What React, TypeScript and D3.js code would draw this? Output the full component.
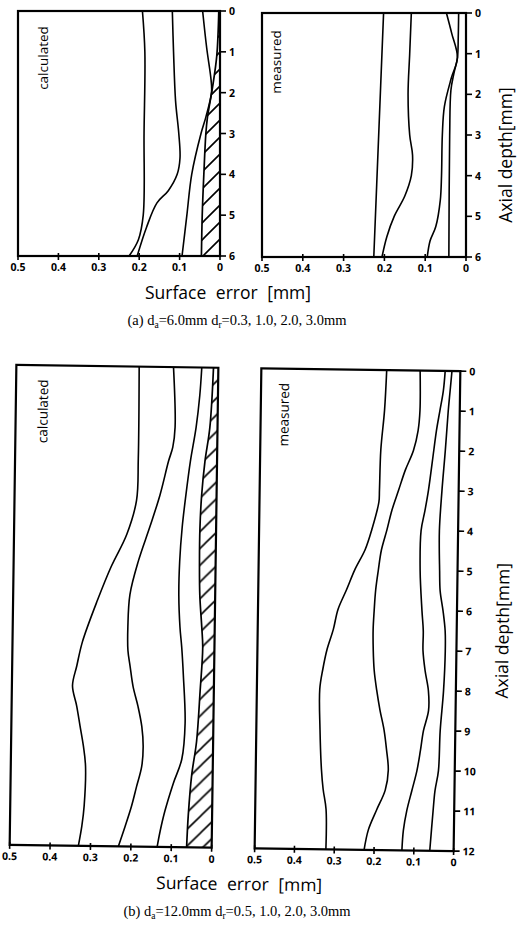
import React from 'react';
import * as d3 from 'd3';

type Pt = [number, number]; // [axial depth mm, surface error mm]

// tick labels
const errorTicks = [0.5, 0.4, 0.3, 0.2, 0.1, 0];
const errorTickLabels = ['0.5', '0.4', '0.3', '0.2', '0.1', '0'];
const depthTicksA = [0, 1, 2, 3, 4, 5, 6];
const depthTicksB = [0, 1, 2, 3, 4, 5, 6, 7, 8, 9, 10, 11, 12];

// (a) da = 6.0 mm — calculated
const calcA_c1: Pt[] = [[0, 0.192], [1, 0.186], [3, 0.188], [5, 0.19], [5.6, 0.202], [6, 0.225]];
const calcA_c2: Pt[] = [[0, 0.118], [1, 0.115], [2.2, 0.11], [3, 0.102], [3.6, 0.099], [4, 0.106], [4.4, 0.128], [4.7, 0.156], [5.3, 0.182], [6, 0.205]];
const calcA_c3: Pt[] = [[0, 0.043], [0.9, 0.033], [1.7, 0.022], [2.0, 0.021], [2.6, 0.035], [3, 0.047], [4, 0.07], [5, 0.082], [6, 0.094]];
const calcA_hatch: Pt[] = [[0, 0.003], [1.1, 0.008], [1.9, 0.019], [2.6, 0.031], [3, 0.035], [4, 0.04], [5, 0.044], [6, 0.046]];

// (a) da = 6.0 mm — measured
const measA_c1: Pt[] = [[0, 0.202], [3, 0.214], [6, 0.226]];
const measA_c2: Pt[] = [[0, 0.134], [1, 0.138], [2, 0.142], [3, 0.138], [3.5, 0.131], [4, 0.134], [4.5, 0.15], [5, 0.176], [5.5, 0.194], [6, 0.206]];
const measA_c3: Pt[] = [[0, 0.048], [0.5, 0.035], [1.1, 0.021], [1.6, 0.036], [2.3, 0.053], [3, 0.058], [4, 0.06], [4.6, 0.063], [5.25, 0.074], [5.6, 0.088], [6, 0.095]];
const measA_c4: Pt[] = [[0, 0.018], [0.6, 0.019], [1.1, 0.021], [1.5, 0.03], [1.9, 0.037], [3, 0.04], [6, 0.042]];

// (b) da = 12.0 mm — calculated
const calcB_c1: Pt[] = [[0, 0.196], [2.3, 0.195], [3.35, 0.198], [4.2, 0.221], [5, 0.258], [5.85, 0.291], [6.9, 0.327], [7.5, 0.34], [8, 0.35], [8.5, 0.339], [9, 0.33], [9.5, 0.321], [10, 0.315], [11, 0.317], [11.5, 0.322], [12, 0.33]];
const calcB_c2: Pt[] = [[0, 0.111], [1.5, 0.105], [2, 0.11], [2.35, 0.12], [3.2, 0.14], [4, 0.164], [4.85, 0.191], [5.7, 0.211], [6.5, 0.215], [7.1, 0.214], [7.5, 0.208], [8, 0.2], [8.5, 0.187], [9, 0.177], [9.5, 0.173], [10, 0.176], [10.5, 0.188], [11, 0.2], [11.5, 0.215], [12, 0.231]];
const calcB_c3: Pt[] = [[0, 0.041], [0.7, 0.045], [1.5, 0.053], [2.35, 0.066], [3.2, 0.076], [4, 0.084], [4.85, 0.089], [5.7, 0.09], [6.5, 0.086], [7, 0.081], [7.7, 0.076], [8.9, 0.07], [9.8, 0.077], [10.4, 0.097], [11.1, 0.117], [11.6, 0.128], [12, 0.135]];
const calcB_hatch: Pt[] = [[0, 0.012], [1.5, 0.019], [2.35, 0.03], [3.2, 0.037], [4, 0.04], [4.85, 0.04], [5.7, 0.038], [6.5, 0.032], [7, 0.029], [8.1, 0.034], [9.35, 0.041], [10.2, 0.052], [11.2, 0.059], [12, 0.062]];

// (b) da = 12.0 mm — measured
const measB_c1: Pt[] = [[0, 0.185], [1, 0.189], [2, 0.197], [3, 0.199], [3.3, 0.2], [4, 0.217], [4.5, 0.233], [5, 0.258], [5.5, 0.278], [6, 0.299], [6.5, 0.31], [7, 0.325], [7.5, 0.335], [8, 0.342], [9, 0.34], [10, 0.335], [10.5, 0.33], [11, 0.322], [12, 0.321]];
const measB_c2: Pt[] = [[0, 0.101], [1, 0.1], [1.5, 0.104], [2, 0.115], [2.5, 0.135], [3, 0.151], [3.5, 0.167], [4, 0.179], [4.5, 0.192], [5, 0.199], [5.5, 0.205], [6, 0.208], [6.5, 0.21], [7, 0.209], [7.5, 0.206], [8, 0.199], [8.5, 0.19], [9, 0.179], [9.5, 0.172], [10, 0.167], [10.5, 0.174], [11, 0.195], [11.5, 0.215], [12, 0.225]];
const measB_c3: Pt[] = [[0, 0.038], [0.5, 0.042], [1, 0.05], [1.5, 0.058], [2, 0.064], [3, 0.076], [3.5, 0.084], [4, 0.093], [5, 0.094], [6, 0.088], [6.5, 0.084], [7, 0.084], [7.5, 0.078], [8, 0.069], [8.5, 0.068], [9, 0.08], [9.5, 0.087], [10, 0.095], [10.5, 0.107], [11, 0.119], [11.5, 0.127], [12, 0.13]];
const measB_c4: Pt[] = [[0, 0.021], [0.5, 0.025], [1, 0.029], [2, 0.035], [3, 0.042], [4, 0.047], [5, 0.045], [5.5, 0.043], [6, 0.035], [6.5, 0.029], [7, 0.028], [8, 0.031], [9, 0.038], [10, 0.041], [10.5, 0.049], [11, 0.053], [12, 0.06]];

const SANS = "'Open Sans', 'DejaVu Sans', sans-serif";
const SERIF = "'Liberation Serif', 'Times New Roman', serif";

interface PanelProps {
  x0: number; x1: number; y0: number; y1: number;
  maxDepth: number;
  curves: Pt[][];
  hatch?: Pt[];
  label: string;
  labelX: number; labelY: number;
  depthTicks: number[];
  showDepthTicks: boolean;
  showDepthLabels: boolean;
}

function Panel(p: PanelProps) {
  const xs = d3.scaleLinear().domain([0.5, 0]).range([p.x0, p.x1]);
  const ys = d3.scaleLinear().domain([0, p.maxDepth]).range([p.y0, p.y1]);
  const curve = d3.curveCatmullRom.alpha(0.5);
  const line = d3.line<Pt>().x(d => xs(d[1])).y(d => ys(d[0])).curve(curve);
  const area = p.hatch
    ? d3.area<Pt>().y(d => ys(d[0])).x0(d => xs(d[1])).x1(() => xs(0)).curve(curve)(p.hatch)
    : null;
  return (
    <g>
      {area && <path d={area} fill="url(#hatch)" stroke="none" />}
      {p.hatch && <path d={line(p.hatch) || ''} fill="none" stroke="#000" strokeWidth={1.7} />}
      {p.curves.map((c, i) => (
        <path key={i} d={line(c) || ''} fill="none" stroke="#000" strokeWidth={1.6} />
      ))}
      <rect x={p.x0} y={p.y0} width={p.x1 - p.x0} height={p.y1 - p.y0} fill="none" stroke="#000" strokeWidth={2.2} />
      {errorTicks.map((t, i) => (
        <g key={'x' + i}>
          <line x1={xs(t)} x2={xs(t)} y1={p.y1 - 3} y2={p.y1 + 4} stroke="#000" strokeWidth={1.6} />
          <text x={xs(t)} y={p.y1 + 15} textAnchor="middle" fontFamily={SANS} fontWeight={700} fontSize={10.5}>
            {errorTickLabels[i]}
          </text>
        </g>
      ))}
      {p.showDepthTicks && p.depthTicks.map((t, i) => (
        <g key={'y' + i}>
          <line x1={p.x1} x2={p.x1 + 6} y1={ys(t)} y2={ys(t)} stroke="#000" strokeWidth={1.6} />
          {p.showDepthLabels && (
            <text x={p.x1 + 9} y={ys(t) + 4} textAnchor="start" fontFamily={SANS} fontWeight={700} fontSize={10.5}>
              {t}
            </text>
          )}
        </g>
      ))}
      <text transform={`translate(${p.labelX},${p.labelY}) rotate(-90)`} textAnchor="middle" fontFamily={SANS} fontSize={13.5}>
        {p.label}
      </text>
    </g>
  );
}

function Caption({ x, y, tag, da, dr }: { x: number; y: number; tag: string; da: string; dr: string }) {
  return (
    <text x={x} y={y} textAnchor="middle" fontFamily={SERIF} fontSize={14.5}>
      {tag} d<tspan fontSize={9.5} dy={3}>a</tspan><tspan dy={-3}>={da}  d</tspan>
      <tspan fontSize={9.5} dy={3}>r</tspan><tspan dy={-3}>={dr}</tspan>
    </text>
  );
}

export default function App() {
  const rotB = 0.8;
  return (
    <svg width={520} height={931} viewBox="0 0 520 931" style={{ position: 'absolute', left: 0, top: 0, background: '#fff' }}>
      <defs>
        <pattern id="hatch" patternUnits="userSpaceOnUse" width={17} height={17}>
          <path d="M0,17 L17,0 M-4,4 L4,-4 M13,21 L21,13" stroke="#000" strokeWidth={1.6} />
        </pattern>
      </defs>
      <rect x={0} y={0} width={520} height={931} fill="#fff" />

      {/* (a) */}
      <Panel x0={18} x1={220} y0={11} y1={256} maxDepth={6} curves={[calcA_c1, calcA_c2, calcA_c3]} hatch={calcA_hatch}
        label="calculated" labelX={48} labelY={58} depthTicks={depthTicksA} showDepthTicks={true} showDepthLabels={true} />
      <Panel x0={262} x1={466} y0={13} y1={257} maxDepth={6} curves={[measA_c1, measA_c2, measA_c3, measA_c4]}
        label="measured" labelX={281} labelY={62} depthTicks={depthTicksA} showDepthTicks={true} showDepthLabels={true} />
      <text transform="translate(512,155) rotate(-90)" textAnchor="middle" fontFamily={SANS} fontSize={17.5}>Axial depth[mm]</text>
      <text x={228} y={299} textAnchor="middle" fontFamily={SANS} fontSize={17.5} wordSpacing={5}>Surface error [mm]</text>
      <Caption x={237} y={325} tag="(a)" da="6.0mm" dr="0.3, 1.0, 2.0, 3.0mm" />

      {/* (b) */}
      <g transform={`rotate(${rotB},235,608)`}>
        <Panel x0={13} x1={215} y0={368} y1={848} maxDepth={12} curves={[calcB_c1, calcB_c2, calcB_c3]} hatch={calcB_hatch}
          label="calculated" labelX={45} labelY={414} depthTicks={depthTicksB} showDepthTicks={false} showDepthLabels={false} />
        <Panel x0={258} x1={457} y0={368} y1={848} maxDepth={12} curves={[measB_c1, measB_c2, measB_c3, measB_c4]}
          label="measured" labelX={286} labelY={414} depthTicks={depthTicksB} showDepthTicks={true} showDepthLabels={true} />
        <text transform="translate(509,627) rotate(-90)" textAnchor="middle" fontFamily={SANS} fontSize={17.5}>Axial depth[mm]</text>
        <text x={243} y={890} textAnchor="middle" fontFamily={SANS} fontSize={17.5} wordSpacing={5}>Surface error [mm]</text>
      </g>
      <Caption x={237} y={916} tag="(b)" da="12.0mm" dr="0.5, 1.0, 2.0, 3.0mm" />
    </svg>
  );
}
